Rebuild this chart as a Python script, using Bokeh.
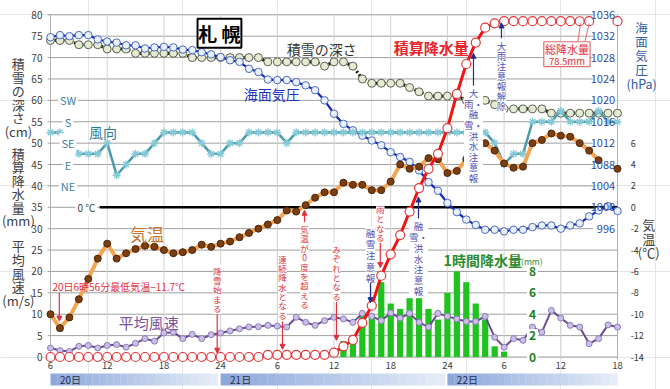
from bokeh.plotting import figure
from bokeh.models import Range1d, Arrow, NormalHead
from bokeh.core.properties import value
from bokeh.embed import file_html
from bokeh.resources import INLINE

NaN = float("nan")
JP = "Noto Sans CJK JP"

# ---------------- data ----------------
hours = list(range(6, 67))          # 20日6時 .. 22日18時 (hour counted from 20日0時)
tick_hours = [6, 12, 18, 24, 30, 36, 42, 48, 54, 60, 66]
tick_labels = ["6", "12", "18", "24", "6", "12", "18", "24", "6", "12", "18"]
days = ["20日", "21日", "22日"]
day_start = [6, 24, 48]
day_end = [23.7, 47.75, 66]

snow_cm = [74, 74, 74, 73, 73, 73, 72, 72, 72, 71,
           71, 71, 71, 71, 71, 70, 70, 70, 70, 70,
           70, 70, 70, 69, 69, 69, 69, 69, 69, 68,
           69, 69, 68, 65, 64, 64, 64, 64, 63, 62,
           61, 61, 61, 61, 60, 60, 60, 59, 58, 58,
           58, 58, 58, 57, 57, 57, 57, 57, 57, 57, 57]

pressure_hpa = [1031.8, 1032.2, 1032.0, 1032.2, 1032.2, 1031.4, 1031.0, 1030.8, 1030.3, 1030.3,
                1029.7, 1029.9, 1030.0, 1029.9, 1029.5, 1029.4, 1029.0, 1028.6, 1028.1, 1027.5,
                1027.2, 1025.9, 1025.3, 1023.9, 1023.8, 1023.8, 1023.4, 1022.8, 1021.9, 1020.0,
                1017.5, 1015.6, 1014.4, 1013.4, 1012.5, 1011.6, 1010.3, 1009.4, 1008.5, 1006.9,
                1004.7, 1003.1, 1000.8, 999.1, 997.7, 996.7, 995.8, 995.8, 995.5, 995.8,
                995.8, 996.3, 996.6, 996.6, 996.0, 996.6, 997.0, 998.3, 999.4, 1000.2, 999.3]

temp_c = [-10.0, -11.3, -10.3, -8.6, -6.7, -4.8, -3.4, -4.8, -4.3, -3.9,
          -3.6, -3.7, -4.0, -4.3, -4.2, -4.0, -3.5, -3.7, -3.4, -3.2,
          -2.8, -2.4, -2.0, -1.6, -1.2, -0.3, -0.4, 0.2, 0.9, 1.4,
          1.4, 2.3, 2.1, 2.1, 1.6, 1.6, 2.4, 4.0, 3.6, 3.8,
          4.6, 4.5, 3.2, 3.4, 4.5, 5.7, 6.0, 5.3, 4.1, 3.7,
          3.8, 6.0, 6.3, 6.9, 6.7, 6.6, 6.0, 5.3, 4.4, NaN, 3.6]

wind_dir = ["SSE", "SSE", "SE", "ESE", "ESE", "ESE", "SE", "ENE", "E", "ESE",
            "ESE", "SE", "SSE", "SSE", "SSE", "SSE", "SE", "ESE", "ESE", "SE",
            "SE", "SSE", "SSE", "SSE", "SSE", "SE", "SSE", "SSE", "SSE", "SSE",
            "SSE", "SSE", "SSE", "SSE", "SSE", "SSE", "SSE", "SSE", "SSE", "SSE",
            "SSE", "SSE", "SSE", "SSE", "SSE", "SSE", "SSE", "SE", "E", "ESE",
            "ESE", "S", "S", "S", "SSW", "S", "S", "S", "SSW", "S", "S"]

wind_speed = [2.1, 1.5, 1.3, 2.5, 2.7, 2.1, 2.7, 2.9, 2.3, 3.2,
              4.3, 3.7, 5.6, 5.8, 4.3, 5.3, 4.3, 5.2, 5.6, 6.1,
              6.6, 7.0, 7.1, 7.4, 7.2, 7.0, 9.3, 8.1, 7.4, 8.5,
              9.3, 8.9, 8.1, 10.2, 9.5, 8.5, 10.3, 9.1, 10.2, 8.1,
              7.0, 10.2, 9.5, 8.9, 8.3, 8.3, 9.5, 4.6, 2.3, 4.3,
              3.9, 7.0, 5.8, 10.9, 9.1, 7.4, 7.0, 3.1, 4.3, 7.5, 7.0]

precip_total = [0] * 20 + [0, 0, 0, 0.5, 0.5, 0.5, 0.5, 0.5, 0.5, 0.5,
                1.0, 2.5, 4.0, 8.0, 12.0, 19.0, 24.0, 28.5, 34.0, 39.5,
                44.0, 47.5, 53.5, 61.5, 68.5, 73.5, 77.0, 78.0, 78.5, 78.5,
                78.5, 78.5, 78.5, 78.5, 78.5, 78.5, 78.5, 78.5, NaN, NaN, 78.5]

precip_hourly = [0] * 20 + [0, 0, 0, 0.5, 0, 0, 0, 0, 0, 0,
                 0.5, 1.5, 1.5, 4.0, 4.0, 7.0, 5.0, 4.5, 5.5, 5.5,
                 4.5, 3.5, 6.0, 8.0, 7.0, 5.0, 3.5, 1.0, 0.5, 0] + [0] * 11

total_precip = 78.5

left_ticks = list(range(0, 81, 5))
pressure_ticks = [1036, 1032, 1028, 1024, 1020, 1016, 1012, 1008, 1004, 1000, 996]
pressure_tick_labels = ["1036", "1032", "1028", "1024", "1020", "1016", "1012", "1088", "1004", "1000", "996"]
temp_ticks = [6, 4, 2, 0, -2, -4, -6, -8, -10, -12, -14]
hourly_ticks = [0, 2, 4, 6, 8]
dir_names = ["SW", "S", "SE", "E", "NE"]
dir_pos = {"NE": 40, "ENE": 42.5, "E": 45, "ESE": 47.5, "SE": 50,
           "SSE": 52.5, "S": 55, "SSW": 57.5, "SW": 60}


# scale conversions onto the common left scale (0..80)
def p2l(p):
    return (p - 972) / 0.8


def t2l(t):
    return 35 + 2.5 * t


def h2l(h):
    return 2.5 * h


# ---------------- figure ----------------
SX = 9.45      # px per hour
SY = 4.2775    # px per left unit
W, H = 670, 389
x0 = 6 - 50 / SX
y1 = 356.5 / SY
p = figure(width=W, height=H, x_range=Range1d(x0, x0 + W / SX), y_range=Range1d(y1 - H / SY, y1),
           output_backend="svg", toolbar_location=None, min_border=0,
           x_axis_location=None, y_axis_location=None)
p.outline_line_color = None
p.background_fill_color = "white"
p.border_fill_color = "white"

EM = 1.448  # line box height of the CJK font per em


def T(x, y, s, size=10, color="#404040", align="center", baseline="middle", bold=False,
      bg=None, lh=1.2, font=JP, pad=1):
    xs = x if isinstance(x, list) else [x]
    ys = y if isinstance(y, list) else [y]
    ss = s if isinstance(s, list) else [s]
    kw = dict(text_font=value(font), text_font_size=f"{size}px", text_color=color,
              text_align=align, text_baseline=baseline, text_line_height=lh,
              text_font_style="bold" if bold else "normal")
    if bg:
        kw.update(background_fill_color=bg, padding=pad)
    p.text(x=xs, y=ys, text=ss, **kw)


def V(x, top, lines, size, spacing, color, bg=None):
    """vertical (stacked) text, returns bottom in data units"""
    T(x, top, "\n".join(lines), size=size, color=color, baseline="top",
      lh=spacing / (EM * size), bg=bg, pad=0)
    return top - len(lines) * spacing / SY


def A(x, ya, yb, color, size=5):
    p.add_layout(Arrow(end=NormalHead(size=size, fill_color=color, line_color=color),
                       x_start=x, y_start=ya, x_end=x, y_end=yb,
                       line_color=color, line_width=1.2))


# grid
hx0 = [5.7 for v in left_ticks]
hx1 = [63.4 if v >= 30 else 66 for v in left_ticks]
p.segment(x0=hx0, y0=left_ticks, x1=hx1, y1=left_ticks, line_color="#A0A0A0", line_width=1)
p.segment(x0=tick_hours, y0=[-0.6] * len(tick_hours), x1=tick_hours, y1=[80] * len(tick_hours),
          line_color="#D2D2D2", line_width=1)
p.segment(x0=[6, 66], y0=[-0.6, -0.6], x1=[6, 66], y1=[80, 80], line_color="#B0B0B0", line_width=1)

# 0 degC line
p.segment(x0=[11.2], y0=[t2l(0)], x1=[66], y1=[t2l(0)], line_color="black", line_width=2.5)

# hourly precipitation bars
bh = [h for h, v in zip(hours, precip_hourly) if v > 0]
bv = [h2l(v) for v in precip_hourly if v > 0]
p.vbar(x=bh, width=0.66, top=bv, bottom=0, fill_color="#1FC21F", line_color=None)

# snow depth
p.line(hours, snow_cm, line_color="#1E1E1E", line_width=3.2, line_dash="2 2")
p.scatter(hours, snow_cm, marker="circle", size=8, fill_color="#E3EBD2", line_color="#5F6050", line_width=1)

# pressure
pl = [p2l(v) for v in pressure_hpa]
p.line(hours, pl, line_color="#1428B8", line_width=2.2)
p.scatter(hours, pl, marker="circle", size=7.5, fill_color="#E8F1FB", line_color="#4A68C0", line_width=1)

# wind direction
wd = [dir_pos[d] for d in wind_dir]
p.line(hours, wd, line_color="#4A9CAC", line_width=2.5)
p.scatter(hours, wd, marker="asterisk", size=8, line_color="#86CAD8", line_width=1.4)

# temperature
tl = [t2l(v) for v in temp_c]
p.line(hours, tl, line_color="#F2A653", line_width=4)
p.scatter(hours, tl, marker="circle", size=7, fill_color="#7A3E12", line_color="#4E2608", line_width=1)

# wind speed
p.line(hours, wind_speed, line_color="#6A4C90", line_width=2)
p.scatter(hours, wind_speed, marker="circle", size=6, fill_color="#CBBFE8", line_color="#8C7ABA", line_width=1)

# accumulated precipitation
p.line(hours, precip_total, line_color="#F01414", line_width=3)
p.scatter(hours, precip_total, marker="circle", size=9, fill_color="white", line_color="#E2383C", line_width=1.2)

# ---------------- axes texts ----------------
T([5.15] * len(left_ticks), left_ticks, [str(v) for v in left_ticks], size=10, align="right")
T(tick_hours, [-2.0] * len(tick_hours), tick_labels, size=9.5)
T([65.75] * len(pressure_ticks), [p2l(v) for v in pressure_ticks], pressure_tick_labels,
  size=11, color="#2E4C9E", align="right")
T([67.4] * len(temp_ticks), [t2l(v) for v in temp_ticks], [str(v) for v in temp_ticks],
  size=9, color="#333333", align="left")
T([57.0] * len(hourly_ticks), [h2l(v) for v in hourly_ticks], [str(v) for v in hourly_ticks],
  size=12, color="#1E7E1E", bold=True, bg="white", pad=2)
T([7.85] * len(dir_names), [dir_pos[d] for d in dir_names], dir_names, size=11,
  color="#3E7FA2", bg="white", pad=2)
T(9.8, t2l(0), "0 ℃", size=10, color="#404040", bg="white", pad=2)

# axis titles
V(2.6, 70.8, ["積", "雪", "の", "深", "さ", "(cm)"], 13, 13.4, "#404040")
V(2.6, 49.9, ["積", "算", "降", "水", "量", "(mm)"], 13, 13.4, "#404040")
V(2.6, 28.2, ["平", "均", "風", "速", "(m/s)"], 13, 13.5, "#404040")
V(68.55, 79.3, ["海", "面", "気", "圧", "(hPa)"], 12.5, 13.3, "#2E5C9E")
V(69.3, 33.3, ["気", "温", "(℃)"], 13, 14, "#404040")

# series labels
T(34.7, 72.1, "積雪の深さ", size=14, color="#333333")
T(46.3, 72.3, "積算降水量", size=15, color="#E8232A", bold=True)
T(29.4, 61.6, "海面気圧", size=14, color="#2233BB")
T(11.56, 52.5, "風向", size=14, color="#2F7C96")
T(16.2, 28.9, "気温", size=17, color="#C87533")
T(16.4, 8.1, "平均風速", size=15, color="#7A52A0")
T(47.6, 22.6, "1時間降水量", size=14, color="#2E8B2E", bold=True, align="left")
T(55.8, 22.5, "(mm)", size=8.5, color="#2E8B2E", align="left")

# title box
p.quad(left=[21.56], right=[26.2], top=[79.1], bottom=[72.3], fill_color="white",
       line_color="black", line_width=2)
T(23.88, 75.7, "札 幌", size=19, color="black", bold=True)

# total precipitation box
p.segment(x0=[61.8, 62.55], y0=[73.7, 73.7], x1=[62.1, 63.0], y1=[78.0, 78.0],
          line_color="#E07070", line_width=1)
p.quad(left=[58.2], right=[63.1], top=[73.7], bottom=[67.9], fill_color="#FFFAFA",
       line_color="#E07070", line_width=1.2)
T(60.65, 71.9, "総降水量", size=11, color="#E03040")
T(60.65, 69.2, f"{total_precip}mm", size=9.5, color="#E03040")

# date band
c0 = (140, 168, 218)
c1 = (229, 236, 247)
n = 24
for s, e in zip(day_start, day_end):
    ls, rs, cs = [], [], []
    for k in range(n):
        f = k / (n - 1)
        ls.append(s + (e - s) * k / n)
        rs.append(s + (e - s) * (k + 1) / n + 0.02)
        cs.append("#%02x%02x%02x" % tuple(int(c0[i] + (c1[i] - c0[i]) * f) for i in range(3)))
    p.quad(left=ls, right=rs, top=[-3.86] * n, bottom=[-6.66] * n, fill_color=cs, line_color=None)
T([s + 1.0 for s in day_start], [-5.25] * 3, days, size=10, color="#1F2F4F", align="left")

# ---------------- annotations ----------------
RED = "#E0303E"
BLUE_T = "#5252B4"
BLUE_A = "#20308F"

T(6.2, 16.5, "20日6時56分最低気温−11.7℃", size=10, color=RED, align="left")
A(6.93, 15.1, 8.4, RED)

red_notes = [  # (hour, top, text, arrow-direction, arrow target)
    (23.64, 21.6, "降雪始まる", "down", 0.9),
    (30.55, 24.4, "連続降水となる", "down", 1.8),
    (32.88, 31.3, "気温が0度を超える", "up", 34.3),
    (36.26, 26.7, "みぞれとなる", "down", 3.9),
    (40.9, 36.0, "雨となる", "down", 20.9),
]
for hx, top, s, d, tgt in red_notes:
    bottom = V(hx, top, list(s), 8.5, 9.6, RED, bg="white")
    if d == "down":
        A(hx, bottom - 0.4, tgt, RED)
    else:
        A(hx, top + 0.2, tgt, RED)

blue_notes = [
    (39.86, 30.6, ["融", "雪", "注", "意", "報"], "down", 12.7, 11.0),
    (44.94, 32.2, ["融", "雪・", "洪", "水", "注", "意", "報"], "up", 37.4, 10.6),
    (50.76, 63.3, ["大", "雨・", "融", "雪・", "洪", "水", "注", "意", "報"], "up", 71.0, 10.4),
    (53.72, 74.3, ["大", "雨", "注", "意", "報", "解", "除"], "up", 78.1, 9.8),
]
for hx, top, lines, d, tgt, sp in blue_notes:
    bottom = V(hx, top, lines, 9.5, sp, BLUE_T, bg="white")
    if d == "down":
        A(hx, bottom - 0.4, tgt, BLUE_A)
    else:
        A(hx, top + 0.2, tgt, BLUE_A)

open("out.html", "w").write(file_html(p, INLINE))
